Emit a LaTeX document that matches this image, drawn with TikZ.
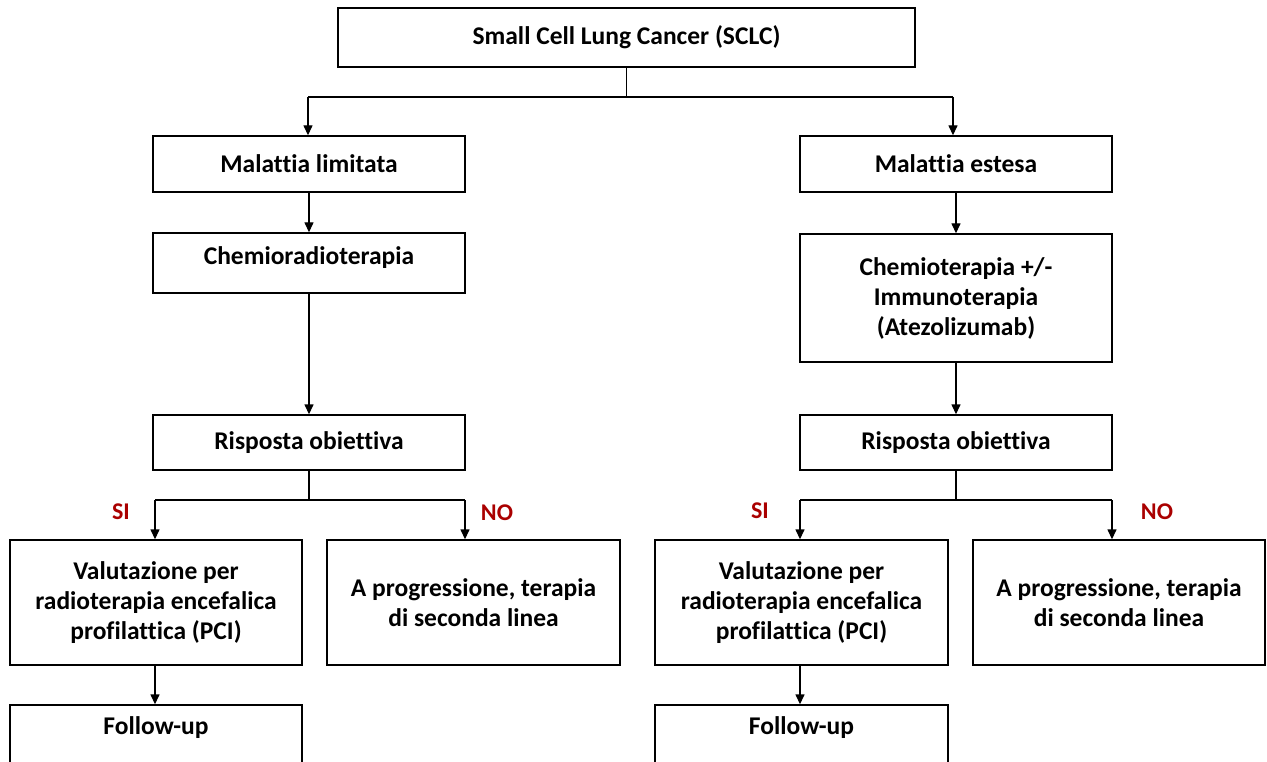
\documentclass[tikz,border=0pt]{standalone}
\usepackage{fontspec}
\setmainfont[Ligatures=NoCommon]{Carlito}
\usetikzlibrary{arrows.meta}
\definecolor{lbl}{RGB}{170,0,0}
\tikzset{
  box/.style={draw=black, line width=1.4pt, fill=white, inner sep=0pt, align=center, font=\bfseries\fontsize{25.5}{30}\selectfont},
  txt/.style={inner sep=0pt, align=center, font=\bfseries\fontsize{25.5}{30}\selectfont},
  yn/.style={inner sep=0pt, text=lbl, font=\bfseries\fontsize{24}{28}\selectfont},
  conn/.style={line width=1.4pt},
  arr/.style={line width=1.4pt, -{Triangle[width=9pt,length=10pt]}}
}
\begin{document}
\begin{tikzpicture}[x=1pt,y=-1pt]
\useasboundingbox (0,0) rectangle (1267,762);
\fill[white] (0,0) rectangle (1267,762);
% boxes
\node[box, minimum width=577pt, minimum height=59pt] (sclc) at (626.5,37.5) {Small Cell Lung Cancer (SCLC)};
\node[box, minimum width=312pt, minimum height=56pt] (lim) at (309,164) {Malattia limitata};
\node[box, minimum width=312pt, minimum height=56pt] (est) at (956,164) {Malattia estesa};
\node[box, minimum width=312pt, minimum height=60pt] (chemrad) at (309,263) {};
\node[txt] (chemradT) at (309,258) {Chemioradioterapia};
\node[box, minimum width=312pt, minimum height=128pt] (chemimm) at (956,298) {Chemioterapia +/-\\Immunoterapia\\(Atezolizumab)};
\node[box, minimum width=312pt, minimum height=55pt] (risL) at (309,442.5) {Risposta obiettiva};
\node[box, minimum width=312pt, minimum height=55pt] (risR) at (956,442.5) {Risposta obiettiva};
\node[box, minimum width=292pt, minimum height=125pt] (valL) at (156,602.5) {Valutazione per\\radioterapia encefalica\\profilattica (PCI)};
\node[box, minimum width=293pt, minimum height=125pt] (progL) at (473.5,602.5) {A progressione, terapia\\di seconda linea};
\node[box, minimum width=293pt, minimum height=125pt] (valR) at (801.5,602.5) {Valutazione per\\radioterapia encefalica\\profilattica (PCI)};
\node[box, minimum width=292pt, minimum height=125pt] (progR) at (1119,602.5) {A progressione, terapia\\di seconda linea};
\node[box, minimum width=292pt, minimum height=70pt] (follL) at (156,740) {};
\node[txt] (follLT) at (156,728) {Follow-up};
\node[box, minimum width=293pt, minimum height=70pt] (follR) at (801.5,740) {};
\node[txt] (follRT) at (801.5,728) {Follow-up};
% junctions
\coordinate (jt) at (626.5,97);
\coordinate (jtL) at (308,97);
\coordinate (jtR) at (953,97);
\coordinate (jL) at (309,500);
\coordinate (sL) at (155,500);
\coordinate (nL) at (465,500);
\coordinate (jR) at (956,500);
\coordinate (sR) at (800,500);
\coordinate (nR) at (1112,500);
% connectors
\draw[conn] (sclc.south) -- (jt);
\draw[conn] (jtL) -- (jtR);
\draw[arr] (jtL) -- (jtL |- lim.north);
\draw[arr] (jtR) -- (jtR |- est.north);
\draw[arr] (lim.south) -- (chemrad.north);
\draw[arr] (chemrad.south) -- (risL.north);
\draw[arr] (est.south) -- (chemimm.north);
\draw[arr] (chemimm.south) -- (risR.north);
\draw[conn] (risL.south) -- (jL);
\draw[conn] (sL) -- (nL);
\draw[arr] (sL) -- (sL |- valL.north);
\draw[arr] (nL) -- (nL |- progL.north);
\draw[conn] (risR.south) -- (jR);
\draw[conn] (sR) -- (nR);
\draw[arr] (sR) -- (sR |- valR.north);
\draw[arr] (nR) -- (nR |- progR.north);
\draw[arr] (valL.south -| sL) -- (sL |- follL.north);
\draw[arr] (valR.south -| sR) -- (sR |- follR.north);
% labels
\node[yn] (siL) at (121,512) {SI};
\node[yn] (noL) at (497,513) {NO};
\node[yn] (siR) at (760,511) {SI};
\node[yn] (noR) at (1157,512) {NO};
\end{tikzpicture}
\end{document}
